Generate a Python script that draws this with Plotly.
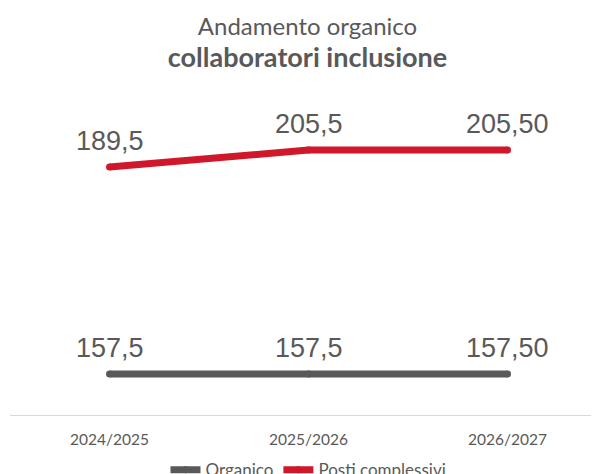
import plotly.graph_objects as go

categories = ["2024/2025", "2025/2026", "2026/2027"]
organico = [157.5, 157.5, 157.5]
posti = [189.5, 205.5, 205.5]
organico_labels = ["157,5", "157,5", "157,50"]
posti_labels = ["189,5", "205,5", "205,50"]

GRAY = "#595959"
RED = "#D0182B"
TXT = "#595959"
LABEL_FONT = dict(family="Liberation Sans, Arial", size=27, color=TXT)

fig = go.Figure()
fig.add_trace(go.Scatter(
    x=categories, y=organico, name="Organico", mode="lines+markers",
    line=dict(color=GRAY, width=7), marker=dict(color=GRAY, size=7),
    yaxis="y", cliponaxis=False,
))
fig.add_trace(go.Scatter(
    x=categories, y=posti, name="Posti complessivi", mode="lines+markers",
    line=dict(color=RED, width=7), marker=dict(color=RED, size=7),
    yaxis="y2", cliponaxis=False,
))

annotations = []
for c, v, t in zip(categories, organico, organico_labels):
    annotations.append(dict(x=c, y=v, xref="x", yref="y", text=t, showarrow=False,
                            yshift=26, font=LABEL_FONT))
for c, v, t in zip(categories, posti, posti_labels):
    annotations.append(dict(x=c, y=v, xref="x", yref="y2", text=t, showarrow=False,
                            yshift=26, font=LABEL_FONT))

fig.update_layout(
    width=599, height=474,
    margin=dict(l=2, r=0, t=92, b=67),
    paper_bgcolor="white", plot_bgcolor="white",
    title=dict(
        text="Andamento organico<br><span style='font-size:27px'><b>collaboratori inclusione</b></span>",
        x=0.5, xanchor="center", y=0.942, yanchor="middle",
        font=dict(family="Lato, Open Sans", size=24, color=TXT),
    ),
    annotations=annotations,
    xaxis=dict(
        type="category", range=[-0.5, 2.5],
        showline=True, linecolor="#D9D9D9", linewidth=1,
        showgrid=False, zeroline=False, ticks="",
        ticklabelstandoff=10,
        tickfont=dict(family="Lato, Open Sans", size=15.5, color=TXT),
    ),
    yaxis=dict(range=[116.5, 431.5], visible=False, showgrid=False, zeroline=False),
    yaxis2=dict(range=[-43.9, 252.6], visible=False, showgrid=False, zeroline=False,
                overlaying="y"),
    showlegend=True,
    legend=dict(
        orientation="h", x=0.5, xanchor="center", xref="paper",
        yref="container", y=0.025, yanchor="middle",
        font=dict(family="Lato, Open Sans", size=17, color=TXT),
        itemwidth=30, tracegroupgap=0,
    ),
)

fig.write_html("out.html")
